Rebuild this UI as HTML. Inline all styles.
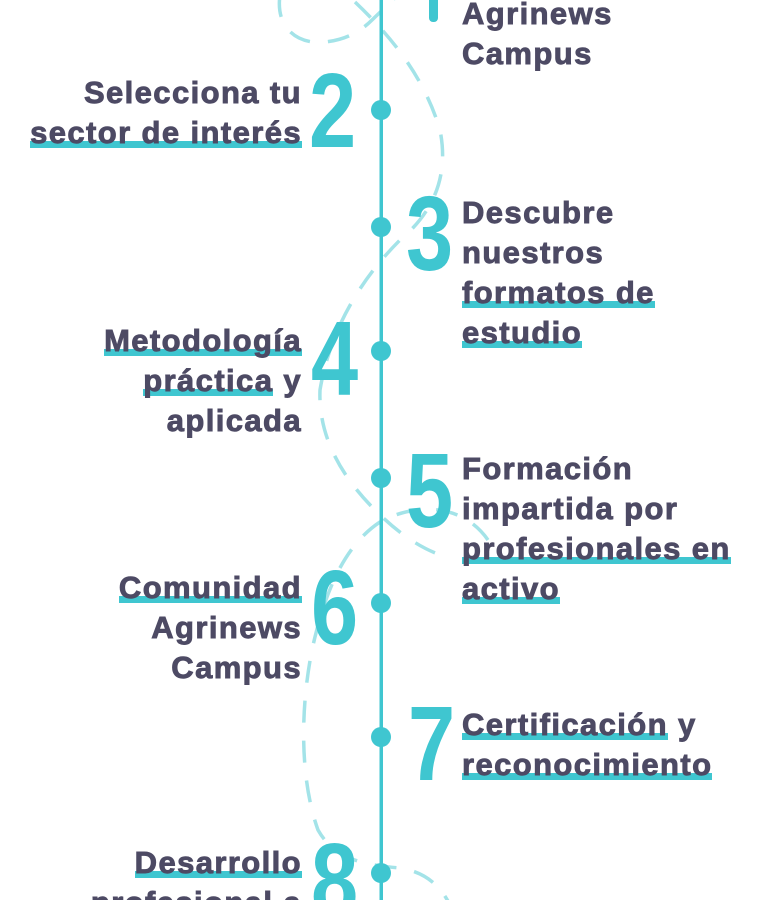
<!DOCTYPE html>
<html><head><meta charset="utf-8"><style>
html,body{margin:0;padding:0;background:#fff;width:760px;height:900px;overflow:hidden;}
body{position:relative;font-family:"Liberation Sans",sans-serif;}
.t{position:absolute;font-weight:bold;font-size:31px;line-height:40px;color:#4d4a64;letter-spacing:1.4px;white-space:nowrap;-webkit-text-stroke:0.9px #4d4a64;}
.r{left:462px;}
.l{right:458px;text-align:right;}
.u{display:inline-block;background:linear-gradient(#3fc6d0,#3fc6d0) no-repeat 0 calc(100% - 5px)/100% 7px;border-radius:4px;}
.n{position:absolute;font-weight:bold;font-size:106px;line-height:106px;color:#3fc6d0;transform:scaleX(0.8);transform-origin:left top;}
</style></head><body>
<svg width="760" height="900" style="position:absolute;left:0;top:0">
<g fill="none" stroke="#a3e3e8" stroke-width="3.5" stroke-dasharray="22 18" stroke-linecap="butt">
<path d="M280 -5 C275 30 300 45 325 42 C345 40 360 32 372 20 L398 -5"/>
<path d="M355 2 C395 40 425 80 440 130 C450 180 430 215 400 240 C360 280 330 330 320 390 C318 440 345 480 375 510 C395 530 420 550 450 558"/>
<path d="M488 540 C460 500 410 505 380 522 C345 545 325 590 312 650 C300 710 300 780 318 830 C335 860 365 865 400 868 C425 872 440 885 450 905"/>
</g>
<rect x="379.5" y="0" width="3.5" height="900" fill="#3fc6d0"/>
<rect x="429" y="-6" width="9" height="28" rx="4" fill="#3fc6d0"/>
<g fill="#3fc6d0">
<circle cx="381" cy="110" r="10"/><circle cx="381" cy="227" r="10"/><circle cx="381" cy="351" r="10"/><circle cx="381" cy="478" r="10"/><circle cx="381" cy="603" r="10"/><circle cx="381" cy="737" r="10"/><circle cx="381" cy="873" r="10"/>
</g>
</svg>
<div class="n" style="left:309px;top:58px">2</div>
<div class="n" style="left:406px;top:181px">3</div>
<div class="n" style="left:311px;top:306px">4</div>
<div class="n" style="left:406px;top:438px">5</div>
<div class="n" style="left:311px;top:555px">6</div>
<div class="n" style="left:408px;top:691px">7</div>
<div class="n" style="left:311px;top:828px">8</div>

<div class="t r" style="top:-6px">Agrinews<br>Campus</div>
<div class="t l" style="top:73px">Selecciona tu<br><span class="u">sector de interés</span></div>
<div class="t r" style="top:193px">Descubre<br>nuestros<br><span class="u">formatos de</span><br><span class="u">estudio</span></div>
<div class="t l" style="top:321px"><span class="u">Metodología</span><br><span class="u">práctica</span> y<br>aplicada</div>
<div class="t r" style="top:449px">Formación<br>impartida por<br><span class="u">profesionales en</span><br><span class="u">activo</span></div>
<div class="t l" style="top:568px"><span class="u">Comunidad</span><br>Agrinews<br>Campus</div>
<div class="t r" style="top:705px"><span class="u">Certificación</span> y<br><span class="u">reconocimiento</span></div>
<div class="t l" style="top:843px"><span class="u">Desarrollo</span><br>profesional a</div>
</body></html>
